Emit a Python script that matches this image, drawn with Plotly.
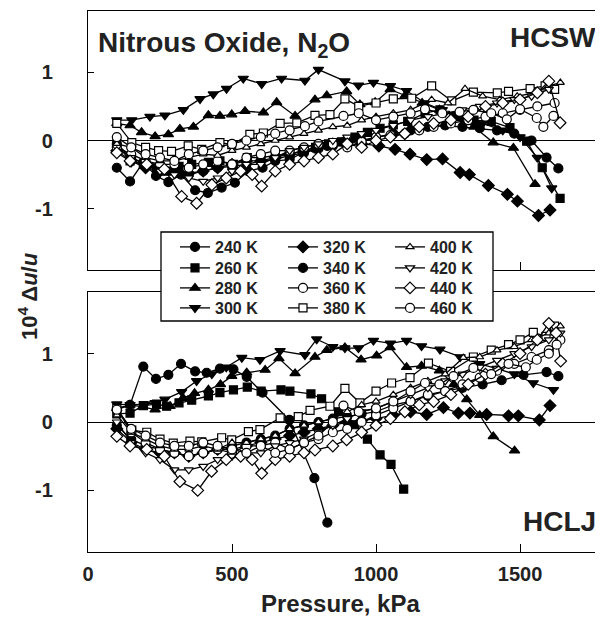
import plotly.graph_objects as go

# ---------------- data (pressure kPa, 10^4 du/u) ----------------
TEMPS = [240, 260, 280, 300, 320, 340, 360, 380, 400, 420, 440, 460]
LABELS = ["240 K", "260 K", "280 K", "300 K", "320 K", "340 K",
          "360 K", "380 K", "400 K", "420 K", "440 K", "460 K"]
X_TICKS = [0, 500, 1000, 1500]
Y_TICKS = [-1, 0, 1]
Y_TICKTEXT = ["-1", "0", "1"]

# --- top panel (HCSW) ---
P240_T = [100,146,192,236,279,323,372,416,464,510,556,606,650,700,745,790,831]
Y240_T = [-0.40,-0.60,-0.32,-0.52,-0.61,-0.50,-0.73,-0.77,-0.69,-0.62,-0.45,-0.40,-0.30,-0.28,-0.18,-0.12,-0.08]
P260_T = [100,146,192,238,273,316,360,418,458,505,553,601,650,701,745,790,835,880,927,970,1014,1060,1110,1170,1222,1280,1340,1400,1465,1523,1577,1639]
Y260_T = [-0.05,-0.30,-0.35,-0.40,-0.45,-0.38,-0.35,-0.32,-0.30,-0.35,-0.25,-0.25,-0.22,-0.20,-0.15,-0.10,-0.05,-0.02,0.05,0.12,0.18,0.23,0.28,0.40,0.45,0.35,0.30,0.28,0.19,-0.01,-0.40,-0.85]
P280_T = [100,146,186,233,279,319,366,418,458,499,545,609,655,719,788,829,898,944,997,1049,1101,1160,1220,1280,1340,1407,1477,1552]
Y280_T = [0.25,0.22,0.12,0.06,0.09,0.17,0.20,0.37,0.36,0.38,0.43,0.41,0.56,0.36,0.60,0.66,0.72,0.53,0.56,0.75,0.66,0.55,0.45,0.35,0.20,-0.03,-0.11,-0.64]
P300_T = [100,152,215,267,331,389,435,481,539,603,672,753,800,892,939,991,1050,1106,1170,1230,1300,1370,1440,1500,1560,1610]
Y300_T = [0.30,0.30,0.35,0.37,0.45,0.61,0.68,0.76,0.91,0.83,0.91,0.88,1.04,0.87,0.81,0.85,0.80,0.73,0.55,0.45,0.33,0.25,0.15,0.05,-0.25,-0.70]
P320_T = [100,150,200,250,300,350,400,450,500,550,600,650,700,750,800,850,900,950,1010,1066,1118,1176,1231,1292,1324,1390,1456,1491,1564,1604]
Y320_T = [-0.15,-0.30,-0.40,-0.45,-0.42,-0.48,-0.45,-0.40,-0.35,-0.30,-0.30,-0.25,-0.20,-0.15,-0.10,-0.05,-0.02,-0.05,-0.08,-0.13,-0.20,-0.28,-0.27,-0.47,-0.50,-0.66,-0.79,-0.89,-1.10,-1.02]
P340_T = [100,150,200,250,300,350,400,450,500,550,600,650,700,750,800,850,900,950,1000,1060,1120,1180,1240,1300,1360,1420,1480,1540,1592,1633]
Y340_T = [-0.05,-0.25,-0.35,-0.40,-0.45,-0.50,-0.45,-0.40,-0.38,-0.35,-0.30,-0.28,-0.22,-0.18,-0.12,-0.08,-0.05,0.00,0.05,0.10,0.15,0.20,0.22,0.20,0.18,0.15,0.10,0.00,-0.25,-0.41]
P360_T = [100,150,200,250,300,350,400,450,500,550,600,650,700,750,800,850,900,950,1000,1050,1100,1150,1200,1260,1320,1380,1440,1500,1560,1620]
Y360_T = [-0.10,-0.20,-0.30,-0.35,-0.35,-0.40,-0.35,-0.30,-0.35,-0.25,-0.20,-0.15,-0.15,-0.10,-0.05,-0.05,-0.10,-0.02,0.05,0.08,0.10,0.15,0.20,0.25,0.30,0.35,0.40,0.45,0.50,0.55]
P380_T = [100,152,200,245,290,348,395,458,499,562,609,667,725,788,840,892,940,1000,1060,1124,1193,1263,1338,1421,1460,1535,1587,1620]
Y380_T = [0.25,-0.03,-0.10,-0.15,-0.16,-0.08,-0.13,-0.03,-0.06,0.09,0.11,0.25,0.26,0.37,0.38,0.61,0.50,0.55,0.61,0.62,0.80,0.58,0.71,0.70,0.72,0.76,0.80,0.75]
P400_T = [100,150,200,250,300,350,400,450,500,550,600,650,700,750,800,850,900,950,1000,1060,1120,1193,1250,1309,1370,1430,1490,1550,1600,1640]
Y400_T = [-0.05,-0.10,-0.25,-0.30,-0.30,-0.25,-0.20,-0.22,-0.15,-0.10,-0.05,0.00,0.05,0.10,0.15,0.20,0.22,0.30,0.35,0.40,0.45,0.60,0.55,0.76,0.65,0.60,0.65,0.70,0.80,0.85]
P420_T = [100,150,200,250,300,350,400,450,500,550,600,650,700,750,800,850,900,950,1000,1060,1120,1180,1240,1300,1360,1420,1480,1540,1600]
Y420_T = [-0.10,-0.25,-0.35,-0.45,-0.50,-0.55,-0.60,-0.55,-0.45,-0.35,-0.35,-0.25,-0.15,-0.10,-0.05,0.00,0.05,0.10,0.15,0.22,0.30,0.35,0.40,0.45,0.50,0.55,0.60,0.65,0.75]
P440_T = [100,146,204,265,325,377,430,480,530,570,603,650,700,750,800,850,900,950,1000,1050,1100,1150,1200,1260,1320,1380,1440,1500,1560,1600,1639]
Y440_T = [-0.18,-0.30,-0.35,-0.42,-0.82,-0.92,-0.65,-0.55,-0.45,-0.50,-0.67,-0.45,-0.35,-0.30,-0.25,-0.20,-0.05,-0.10,0.00,0.05,0.10,0.20,0.25,0.30,0.35,0.50,0.55,0.60,0.70,0.87,0.26]
P460_T = [100,150,200,250,300,350,400,450,500,550,600,650,700,753,800,887,940,1000,1060,1120,1170,1230,1290,1338,1400,1454,1500,1558,1581,1616]
Y460_T = [0.05,-0.10,-0.20,-0.25,-0.30,-0.20,-0.15,-0.10,-0.05,0.00,0.05,0.10,0.15,0.21,0.28,0.36,0.40,0.30,0.35,0.40,0.46,0.40,0.42,0.45,0.40,0.31,0.46,0.33,0.20,0.36]

# --- bottom panel (HCLJ) ---
P240_B = [100,146,192,236,279,323,372,412,458,505,551,606,699,786,831]
Y240_B = [0.18,0.25,0.81,0.63,0.69,0.85,0.74,0.72,0.78,0.77,0.66,0.43,0.03,-0.82,-1.47]
P260_B = [100,146,192,238,273,316,360,418,458,505,553,601,670,701,774,811,870,927,970,1014,1052,1096]
Y260_B = [0.12,0.13,0.24,0.26,0.23,0.28,0.32,0.38,0.43,0.47,0.51,0.45,0.47,0.45,0.41,0.34,0.15,-0.04,-0.25,-0.48,-0.62,-0.98]
P280_B = [100,146,190,233,285,330,370,418,460,499,551,615,663,719,788,829,892,948,1002,1049,1106,1158,1220,1270,1315,1360,1407,1481]
Y280_B = [0.20,0.25,0.22,0.18,0.23,0.35,0.42,0.47,0.55,0.67,0.72,0.76,0.93,0.71,0.95,1.05,1.09,0.91,0.97,1.09,0.80,0.82,0.75,0.55,0.33,0.10,-0.21,-0.42]
P300_B = [100,146,198,233,267,325,377,430,480,534,597,667,753,794,850,892,939,991,1050,1106,1158,1222,1292,1360,1420,1480,1546,1616]
Y300_B = [0.26,0.25,0.26,0.28,0.33,0.44,0.60,0.70,0.80,0.94,0.91,1.04,0.98,1.21,1.10,1.08,1.08,1.19,1.15,1.19,1.11,1.06,0.95,0.85,0.78,0.70,0.57,0.47]
P320_B = [100,150,200,250,300,350,400,450,500,550,600,650,700,750,800,850,900,950,1000,1060,1120,1176,1234,1286,1326,1384,1460,1494,1567,1604]
Y320_B = [-0.10,-0.30,-0.40,-0.45,-0.45,-0.50,-0.45,-0.40,-0.40,-0.35,-0.30,-0.25,-0.20,-0.15,-0.10,-0.05,0.00,0.02,0.05,0.10,0.15,0.11,0.21,0.13,0.13,0.11,0.09,0.09,0.03,0.24]
P340_B = [100,150,200,250,300,350,400,450,500,550,600,650,700,750,800,850,900,950,1000,1060,1120,1180,1240,1300,1370,1436,1512,1592,1633]
Y340_B = [-0.05,-0.25,-0.35,-0.40,-0.45,-0.50,-0.45,-0.40,-0.35,-0.30,-0.25,-0.20,-0.10,-0.05,0.00,0.05,0.08,0.12,0.15,0.25,0.30,0.38,0.45,0.50,0.55,0.61,0.69,0.73,0.67]
P360_B = [100,150,200,250,300,350,400,450,500,550,600,650,700,750,800,850,900,950,1000,1060,1120,1180,1240,1300,1360,1420,1480,1540,1600,1640]
Y360_B = [0.20,-0.15,-0.30,-0.40,-0.45,-0.50,-0.45,-0.40,-0.45,-0.35,-0.35,-0.30,-0.40,-0.30,-0.25,-0.15,-0.10,0.00,0.10,0.20,0.30,0.40,0.45,0.55,0.65,0.75,0.85,0.95,1.05,1.20]
P380_B = [100,152,204,250,296,354,395,464,499,557,597,667,730,771,840,892,944,1000,1054,1118,1182,1259,1338,1400,1460,1500,1546,1590,1620]
Y380_B = [0.20,-0.12,-0.15,-0.25,-0.31,-0.28,-0.29,-0.23,-0.26,-0.14,-0.11,0.06,0.08,0.17,0.23,0.49,0.28,0.45,0.57,0.65,0.86,0.74,0.95,1.05,1.13,1.20,1.31,1.25,1.40]
P400_B = [100,150,200,250,300,350,400,450,500,550,600,650,700,750,800,850,900,950,1000,1060,1120,1180,1240,1303,1360,1420,1480,1540,1600,1640]
Y400_B = [0.10,-0.15,-0.25,-0.35,-0.40,-0.40,-0.35,-0.40,-0.30,-0.30,-0.25,-0.20,-0.10,-0.05,0.00,0.05,0.15,0.25,0.30,0.40,0.50,0.60,0.70,0.94,0.95,1.05,1.10,1.20,1.30,1.40]
P420_B = [100,150,200,250,300,350,400,450,500,550,600,650,700,750,800,850,900,950,1000,1060,1120,1180,1240,1300,1360,1420,1480,1540,1600,1640]
Y420_B = [0.00,-0.30,-0.45,-0.55,-0.70,-0.70,-0.65,-0.55,-0.50,-0.45,-0.45,-0.35,-0.30,-0.25,-0.15,-0.05,0.05,0.15,0.20,0.30,0.40,0.50,0.60,0.70,0.80,0.90,1.00,1.10,1.20,1.30]
P440_B = [100,146,204,265,319,381,429,480,530,570,603,650,700,750,788,850,898,950,1000,1050,1100,1150,1200,1260,1320,1380,1440,1500,1560,1600,1625,1641]
Y440_B = [-0.21,-0.35,-0.40,-0.50,-0.87,-1.00,-0.72,-0.55,-0.50,-0.55,-0.75,-0.55,-0.50,-0.45,-0.41,-0.35,-0.26,-0.15,-0.05,0.05,0.15,0.25,0.30,0.40,0.55,0.70,0.85,1.00,1.20,1.44,1.30,0.89]
P460_B = [100,150,200,250,300,350,400,450,500,550,600,650,700,750,800,850,887,940,1000,1060,1120,1170,1220,1269,1338,1400,1460,1520,1558,1600,1627]
Y460_B = [0.18,-0.10,-0.20,-0.30,-0.35,-0.35,-0.30,-0.35,-0.40,-0.45,-0.35,-0.45,-0.40,-0.30,-0.20,0.00,0.24,0.15,0.20,0.30,0.45,0.57,0.55,0.67,0.79,0.70,0.85,0.80,0.91,1.00,1.13]

TOP = [(P240_T, Y240_T), (P260_T, Y260_T), (P280_T, Y280_T), (P300_T, Y300_T),
       (P320_T, Y320_T), (P340_T, Y340_T), (P360_T, Y360_T), (P380_T, Y380_T),
       (P400_T, Y400_T), (P420_T, Y420_T), (P440_T, Y440_T), (P460_T, Y460_T)]
BOT = [(P240_B, Y240_B), (P260_B, Y260_B), (P280_B, Y280_B), (P300_B, Y300_B),
       (P320_B, Y320_B), (P340_B, Y340_B), (P360_B, Y360_B), (P380_B, Y380_B),
       (P400_B, Y400_B), (P420_B, Y420_B), (P440_B, Y440_B), (P460_B, Y460_B)]

# ---------------- styles ----------------
SYMBOLS = ["circle", "square", "triangle-up", "triangle-down", "diamond", "circle",
           "circle", "square", "triangle-up", "triangle-down", "diamond", "circle"]
FILLS = ["black"] * 6 + ["white"] * 6
SIZES = [9, 8, 9, 9, 9, 9, 9, 8, 7, 8, 9, 9]

FONT = "Liberation Sans, Arial, Helvetica, sans-serif"
TXT = "#222"
LW = 1.3

# page body offset (default html body margin) and target plot-area pixels
OFF = 8
L_PX, R_PX, T_PX, B_PX = 88, 603, 11, 552
W, H = 603 - OFF, 626 - OFF


def px_x(p):
    return (p - L_PX) / (R_PX - L_PX)


def px_y(p):
    return (B_PX - p) / (B_PX - T_PX)


# legend layout: 3 columns x 4 rows, one legend per entry
LEG_COL_X = [175, 283, 390]
LEG_ROW_Y = [247, 268, 288, 308]

fig = go.Figure()
for i, t in enumerate(TEMPS):
    legname = "legend" if i == 0 else f"legend{i + 1}"
    for (px, py), xa, ya, show in [(TOP[i], "x", "y", True), (BOT[i], "x2", "y2", False)]:
        fig.add_trace(go.Scatter(
            x=px, y=py, xaxis=xa, yaxis=ya, mode="lines+markers",
            name=LABELS[i], legendgroup=str(t), legend=legname, showlegend=show,
            line=dict(color="black", width=LW),
            marker=dict(symbol=SYMBOLS[i], size=SIZES[i], color=FILLS[i],
                        line=dict(color="black", width=1.2)),
        ))

axfont = dict(family=FONT, size=20, color=TXT, weight="bold")
xcommon = dict(range=[0, 1788], tickvals=X_TICKS, ticks="inside", ticklen=8,
               tickwidth=LW, tickcolor="black", showline=True, linecolor="black",
               linewidth=LW, mirror=True, showgrid=False, zeroline=False)
ycommon = dict(range=[-1.9, 1.9], tickvals=Y_TICKS, ticktext=Y_TICKTEXT, ticks="inside",
               ticklen=6, tickwidth=LW, tickcolor="black", showline=True,
               linecolor="black", linewidth=LW, showgrid=False, zeroline=True,
               zerolinecolor="black", zerolinewidth=LW, tickfont=axfont,
               ticklabelstandoff=30)

dom_top = [px_y(270), 1.0]
dom_bot = [0.0, px_y(292)]

fig.update_layout(
    width=W, height=H,
    margin=dict(l=L_PX - OFF, r=0, t=T_PX - OFF, b=626 - B_PX, pad=0),
    paper_bgcolor="white", plot_bgcolor="white",
    font=dict(family=FONT, color=TXT),
    xaxis=dict(**xcommon, anchor="y", showticklabels=False, domain=[0, 1]),
    xaxis2=dict(**xcommon, anchor="y2", showticklabels=True, tickfont=axfont,
                ticklabelstandoff=4, domain=[0, 1]),
    yaxis=dict(**ycommon, domain=dom_top, anchor="x"),
    yaxis2=dict(**ycommon, domain=dom_bot, anchor="x2"),
    showlegend=True,
)

legfont = dict(family=FONT, size=16, color=TXT, weight="bold")
legends = {}
for i in range(len(TEMPS)):
    col, row = divmod(i, 4)
    key = "legend" if i == 0 else f"legend{i + 1}"
    legends[key] = dict(bgcolor="rgba(0,0,0,0)", borderwidth=0, font=legfont,
                        yanchor="middle", xanchor="left", orientation="v",
                        itemsizing="trace", tracegroupgap=0,
                        x=px_x(LEG_COL_X[col]), y=px_y(LEG_ROW_Y[row]))
fig.update_layout(**legends)

# white legend box with border (above data, below legend)
fig.add_shape(type="rect", xref="paper", yref="paper",
              x0=px_x(161), x1=px_x(493), y0=px_y(321), y1=px_y(232),
              fillcolor="white", line=dict(color="black", width=LW), layer="above")

ann_font = dict(family=FONT, size=28, color=TXT)
fig.add_annotation(text="<b>Nitrous Oxide, N<sub>2</sub>O</b>", xref="paper", yref="paper",
                   x=px_x(96), y=px_y(44), xanchor="left", yanchor="middle",
                   showarrow=False, font=ann_font)
fig.add_annotation(text="<b>HCSW</b>", xref="paper", yref="paper",
                   x=px_x(598), y=px_y(38), xanchor="right", yanchor="middle",
                   showarrow=False, font=ann_font)
fig.add_annotation(text="<b>HCLJ</b>", xref="paper", yref="paper",
                   x=px_x(598), y=px_y(521), xanchor="right", yanchor="middle",
                   showarrow=False, font=ann_font)
fig.add_annotation(text="<b>Pressure, kPa</b>", xref="paper", yref="paper",
                   x=px_x(340), y=px_y(603), xanchor="center", yanchor="middle",
                   showarrow=False, font=dict(family=FONT, size=24, color=TXT))
fig.add_annotation(text="<b>10<sup>4</sup> Δ<i>u</i>/<i>u</i></b>", xref="paper", yref="paper",
                   x=px_x(28), y=px_y(296), xanchor="center", yanchor="middle",
                   textangle=-90, showarrow=False,
                   font=dict(family=FONT, size=22, color=TXT))

fig.write_html("out.html")
